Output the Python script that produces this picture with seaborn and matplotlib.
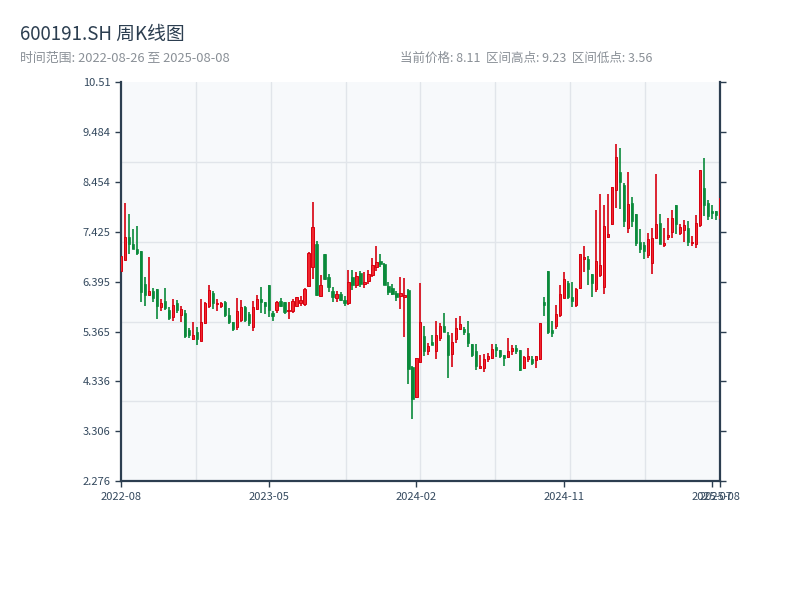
import numpy as np
import pandas as pd
import matplotlib
matplotlib.use("Agg")
import matplotlib.pyplot as plt
import seaborn as sns

sns.set_theme(style="ticks")
plt.rcParams['font.family'] = ['Noto Sans CJK SC', 'DejaVu Sans']
plt.rcParams['axes.unicode_minus'] = False

UP_COLOR = "#d7000f"
UP_FILL = "#f0262e"
DOWN_COLOR = "#0a8a3a"
AXIS_COLOR = "#2c3e50"
GRID_COLOR = "#e1e5ea"
BG_AX = "#f7f9fb"

# weekly bars 2022-08-26 .. 2025-08-08 (holiday weeks with no trading are absent)
closed_weeks = ["2022-10-07", "2023-01-27", "2023-10-06", "2024-02-16"]

opens = [6.61, 6.84, 7.32, 7.18, 7.06, 7.02, 6.35, 6.12, 6.20, 6.25,
         5.87, 6.00, 5.80, 5.66, 5.95, 5.70, 5.75, 5.39, 5.21, 5.35,
         5.17, 5.55, 5.89, 6.15, 5.93, 5.89, 5.97, 5.70, 5.56, 5.45,
         5.60, 5.87, 5.73, 5.45, 5.82, 6.03, 5.97, 6.32, 5.74, 5.81,
         6.00, 5.97, 5.78, 5.78, 5.90, 5.96, 5.94, 6.30, 6.70, 7.18,
         6.09, 6.96, 6.48, 6.21, 6.05, 6.14, 6.01, 5.96, 6.49, 6.32,
         6.58, 6.34, 6.40, 6.54, 6.70, 6.82, 6.75, 6.31, 6.26, 6.15,
         6.10, 6.08, 6.22, 4.63, 4.02, 4.73, 5.28, 4.97, 5.14, 4.96,
         5.24, 5.47, 5.30, 4.91, 5.22, 5.42, 5.41, 5.33, 5.10, 4.97,
         4.62, 4.61, 4.80, 4.82, 5.04, 4.98, 4.88, 4.84, 4.96, 5.03,
         4.98, 4.61, 4.80, 4.79, 4.78, 4.80, 5.98, 6.61, 5.40, 5.48,
         5.70, 6.06, 6.37, 6.08, 5.92, 6.26, 6.87, 6.87, 6.55, 6.24,
         6.53, 6.28, 7.32, 7.58, 8.29, 8.66, 8.39, 7.50, 8.01, 7.79,
         7.22, 7.15, 6.95, 6.78, 7.29, 7.61, 7.15, 7.31, 7.42, 7.97,
         7.40, 7.47, 7.50, 7.19, 7.18, 7.56, 8.32, 8.01, 7.85, 7.85,
         7.70]
closes = [6.92, 7.32, 7.18, 7.07, 6.98, 6.18, 6.12, 6.21, 6.05, 5.90,
          5.96, 5.85, 5.65, 5.91, 5.80, 5.83, 5.27, 5.30, 5.29, 5.22,
          5.57, 5.95, 6.23, 5.95, 5.96, 5.96, 5.70, 5.56, 5.42, 5.79,
          5.88, 5.60, 5.55, 5.87, 6.03, 5.98, 5.90, 5.80, 5.68, 5.98,
          5.90, 5.77, 5.80, 5.99, 6.07, 6.01, 6.25, 6.99, 7.53, 6.12,
          6.32, 6.44, 6.29, 6.08, 6.13, 6.01, 5.96, 6.38, 6.32, 6.51,
          6.34, 6.38, 6.55, 6.73, 6.80, 6.76, 6.32, 6.19, 6.14, 6.08,
          6.15, 6.12, 4.60, 3.97, 4.81, 5.56, 4.97, 5.07, 5.08, 5.29,
          5.47, 5.36, 4.88, 5.14, 5.44, 5.51, 5.35, 5.13, 4.88, 4.66,
          4.66, 4.80, 4.85, 5.00, 4.98, 4.86, 4.81, 4.97, 5.02, 4.96,
          4.58, 4.84, 4.85, 4.71, 4.85, 5.54, 5.91, 5.36, 5.34, 5.73,
          6.14, 6.45, 6.07, 6.00, 6.25, 6.96, 6.90, 6.66, 6.36, 6.82,
          6.74, 7.55, 7.38, 8.34, 8.97, 8.45, 7.64, 7.99, 7.65, 7.20,
          7.07, 7.02, 7.27, 7.29, 7.59, 7.18, 7.19, 7.35, 7.70, 7.59,
          7.52, 7.56, 7.22, 7.21, 7.61, 8.70, 7.98, 7.75, 7.81, 7.76,
          8.11]
highs = [6.95, 8.01, 7.79, 7.48, 7.54, 7.02, 6.49, 6.90, 6.26, 6.25,
         6.03, 6.26, 5.87, 6.03, 6.01, 5.90, 5.80, 5.43, 5.56, 5.45,
         6.03, 5.97, 6.32, 6.20, 6.03, 5.98, 5.99, 5.85, 5.56, 6.05,
         6.01, 5.90, 5.77, 5.99, 6.11, 6.28, 5.97, 6.32, 5.78, 5.99,
         6.05, 5.97, 5.97, 6.03, 6.07, 6.09, 6.27, 7.00, 8.03, 7.23,
         6.53, 6.96, 6.55, 6.28, 6.20, 6.18, 6.09, 6.63, 6.63, 6.59,
         6.61, 6.59, 6.63, 6.88, 7.14, 6.96, 6.77, 6.39, 6.34, 6.20,
         6.49, 6.47, 6.24, 4.65, 4.82, 6.37, 5.47, 5.12, 5.29, 5.58,
         5.54, 5.75, 5.36, 5.33, 5.64, 5.68, 5.46, 5.58, 5.10, 5.10,
         4.88, 4.90, 4.92, 5.10, 5.10, 4.98, 4.88, 5.23, 5.08, 5.08,
         4.98, 4.86, 5.02, 4.86, 4.86, 5.54, 6.08, 6.61, 5.58, 5.91,
         6.32, 6.60, 6.40, 6.39, 6.26, 6.96, 7.14, 6.92, 6.55, 7.87,
         8.20, 7.97, 8.20, 8.34, 9.23, 9.16, 8.43, 8.66, 8.14, 7.79,
         7.48, 7.22, 7.40, 7.50, 8.61, 7.79, 7.50, 7.70, 7.87, 7.97,
         7.58, 7.66, 7.65, 7.33, 7.76, 8.70, 8.94, 8.07, 7.97, 7.85,
         8.15]
lows = [6.58, 6.84, 6.96, 7.06, 6.94, 5.97, 5.89, 6.12, 5.98, 5.62,
        5.79, 5.80, 5.60, 5.58, 5.74, 5.56, 5.23, 5.23, 5.20, 5.09,
        5.16, 5.52, 5.85, 5.83, 5.79, 5.85, 5.67, 5.52, 5.37, 5.40,
        5.56, 5.56, 5.48, 5.38, 5.80, 5.74, 5.73, 5.67, 5.58, 5.74,
        5.87, 5.73, 5.62, 5.74, 5.89, 5.90, 5.89, 6.30, 6.45, 6.09,
        6.09, 6.42, 6.18, 5.98, 5.98, 5.99, 5.89, 5.91, 6.22, 6.26,
        6.29, 6.26, 6.34, 6.49, 6.62, 6.69, 6.32, 6.11, 6.11, 6.00,
        5.82, 5.25, 4.29, 3.56, 4.00, 4.72, 4.86, 4.88, 5.08, 4.79,
        5.17, 5.36, 4.40, 4.63, 5.12, 5.39, 5.29, 5.05, 4.84, 4.57,
        4.59, 4.53, 4.74, 4.79, 4.83, 4.81, 4.65, 4.81, 4.88, 4.90,
        4.55, 4.59, 4.74, 4.67, 4.61, 4.77, 5.68, 5.32, 5.25, 5.41,
        5.67, 6.05, 6.03, 5.87, 5.88, 6.24, 6.60, 6.32, 6.08, 6.18,
        6.49, 6.14, 7.29, 7.56, 7.92, 7.89, 7.52, 7.39, 7.52, 7.13,
        6.98, 6.86, 6.89, 6.55, 7.29, 7.17, 7.11, 7.25, 7.29, 7.38,
        7.35, 7.21, 7.12, 7.12, 7.08, 7.52, 7.74, 7.66, 7.68, 7.66,
        7.65]

y_ticks = [2.276, 3.306, 4.336, 5.365, 6.395, 7.425, 8.454, 9.484, 10.51]
y_tick_labels = ["2.276", "3.306", "4.336", "5.365", "6.395", "7.425", "8.454", "9.484", "10.51"]

weeks = pd.date_range("2022-08-26", "2025-08-08", freq="W-FRI")
weeks = weeks[~weeks.isin(pd.to_datetime(closed_weeks))]
df = pd.DataFrame({"date": weeks, "open": opens, "close": closes,
                   "high": highs, "low": lows})
df["idx"] = np.arange(len(df))
df["up"] = df["close"] >= df["open"]
n = len(df)

fig = plt.figure(figsize=(8, 6), dpi=100)
fig.patch.set_facecolor("white")
ax = fig.add_axes([0.151, 0.198, 0.749, 0.665])
ax.set_facecolor(BG_AX)

# background grid (fixed fractions of the panel)
for f in [0.2, 0.4, 0.6, 0.8]:
    ax.plot([0, 1], [f, f], transform=ax.transAxes, color=GRID_COLOR, lw=1, zorder=0)
for f in np.arange(1, 8) / 8:
    ax.plot([f, f], [0, 1], transform=ax.transAxes, color=GRID_COLOR, lw=1, zorder=0)

# wicks
for up, col in [(True, UP_COLOR), (False, DOWN_COLOR)]:
    d = df[df["up"] == up]
    ax.vlines(d["idx"], d["low"], d["high"], color=col, lw=1.2, zorder=2)

# bodies
w = 0.55
up_df = df[df["up"]]
dn_df = df[~df["up"]]
ax.bar(up_df["idx"], (up_df["close"] - up_df["open"]).clip(lower=0.02), bottom=up_df["open"],
       width=w, color=UP_FILL, edgecolor=UP_COLOR, linewidth=0.7, zorder=3)
ax.bar(dn_df["idx"], (dn_df["open"] - dn_df["close"]).clip(lower=0.02), bottom=dn_df["close"],
       width=w, color=DOWN_COLOR, edgecolor=DOWN_COLOR, linewidth=0.5, zorder=3)

ax.set_xlim(0, n - 1)
ax.set_ylim(y_ticks[0], y_ticks[-1])
ax.set_yticks(y_ticks)
ax.set_yticklabels(y_tick_labels)

step = n // 4
xt = list(range(0, n, step)) + [n - 1]
ax.set_xticks(xt)
ax.set_xticklabels([df["date"].iloc[i].strftime("%Y-%m") for i in xt])

for s in ["left", "bottom", "right"]:
    ax.spines[s].set_color(AXIS_COLOR)
    ax.spines[s].set_linewidth(1.6)
ax.spines["top"].set_visible(False)
ax.tick_params(axis="both", colors=AXIS_COLOR, labelsize=8, length=4, width=1)
ax.tick_params(axis="y", right=True, labelright=False)
for lab in ax.get_xticklabels() + ax.get_yticklabels():
    lab.set_color("#34495e")
ax.set_xlabel("")
ax.set_ylabel("")

last = df["close"].iloc[-1]
fig.text(0.025, 0.943, "600191.SH 周K线图", fontsize=13.5, color=AXIS_COLOR, va="center")
fig.text(0.025, 0.902, "时间范围: 2022-08-26 至 2025-08-08", fontsize=9.3, color="#8a9097", va="center")
fig.text(0.5, 0.902, f"当前价格: {last:.2f}  区间高点: {df['high'].max():.2f}  区间低点: {df['low'].min():.2f}",
         fontsize=9.0, color="#8a9097", va="center")

plt.savefig("out.png", dpi=100, facecolor="white")
